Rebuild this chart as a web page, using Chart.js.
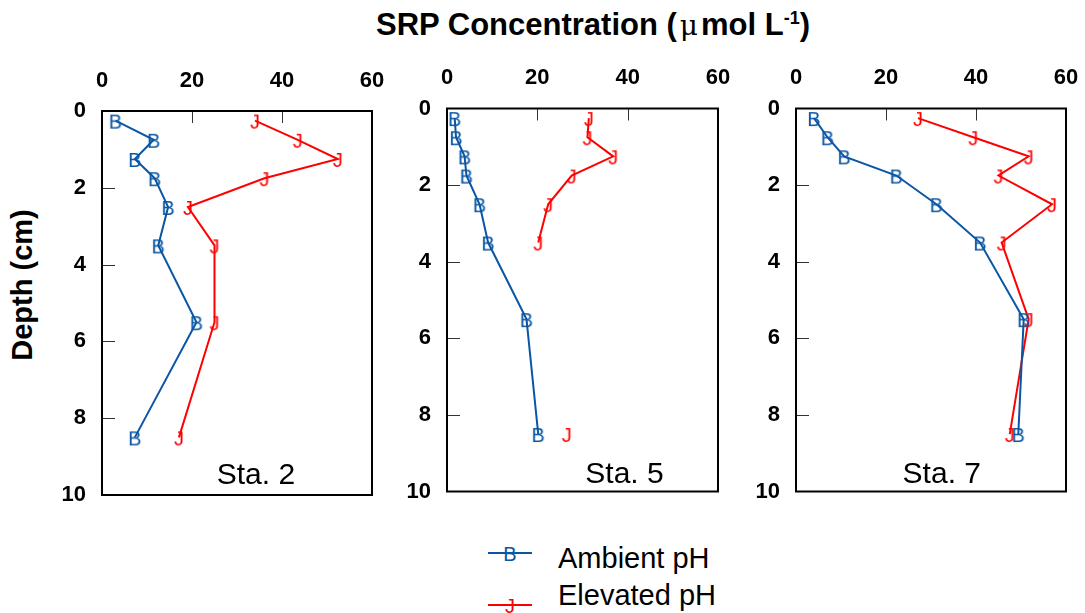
<!doctype html>
<html>
<head>
  <meta charset="utf-8">
  <title>SRP Concentration</title>
  <style>
    body { margin:0; width:1085px; height:613px; position:relative; overflow:hidden; background:#fff;
           font-family:"Liberation Sans", Arial, sans-serif; color:#000; }
    canvas { position:absolute; top:0; }
    #title { position:absolute; left:0; width:1186px; top:7px; text-align:center; font-weight:bold; font-size:31px; }
    #title sup { font-size:18px; }
    #title .mu { font-weight:normal; font-family:"DejaVu Serif", serif; font-size:28px; padding:0 3px; }
    #ytitle { position:absolute; left:22px; top:285px; font-weight:bold; font-size:29px; white-space:nowrap;
              transform:translate(-50%,-50%) rotate(-90deg); }
    .leg { position:absolute; left:488px; white-space:nowrap; }
    .leg .sw { position:absolute; left:0; top:-1px; width:44px; height:0; border-top:2px solid; }
    .leg .mk { position:absolute; left:22px; top:1px; transform:translate(-50%,-50%); font-size:20px; }
    .tx { position:absolute; left:558px; font-size:29px; transform:translateY(-50%); white-space:nowrap; }
  </style>
  <script src="https://cdn.jsdelivr.net/npm/chart.js"></script>
</head>
<body>
  <div id="title">SRP Concentration (<span class="mu">&mu;</span>mol L<sup>-1</sup>)</div>
  <div id="ytitle">Depth (cm)</div>
  <canvas id="sta2" width="400" height="515" style="left:0px"></canvas>
  <canvas id="sta5" width="370" height="515" style="left:380px"></canvas>
  <canvas id="sta7" width="355" height="515" style="left:730px"></canvas>

  <script>
    // depth of each sample (cm)
    const depths = [0.25, 0.75, 1.25, 1.75, 2.5, 3.5, 5.5, 8.5];

    // SRP (umol/L)
    const sta2Ambient  = [3.0, 11.5, 7.3, 11.7, 14.7, 12.5, 21.0, 7.3];
    const sta2Elevated = [34.0, 43.5, 52.4, 36.1, 19.1, 25.0, 25.0, 17.1];
    const sta5Ambient  = [1.7, 2.0, 3.9, 4.3, 7.2, 9.1, 17.6, 20.2];
    const sta5Elevated = [31.4, 31.1, 36.8, 27.6, 22.4, 20.2, null, 26.5];
    const sta7Ambient  = [4.0, 7.0, 10.7, 22.3, 31.2, 40.9, 50.6, 49.4];
    const sta7Elevated = [27.1, 39.4, 51.7, 45.0, 56.9, 45.7, 51.7, 47.5];

    const xTicks = [0, 20, 40, 60];
    const yTicks = [0, 2, 4, 6, 8, 10];

    const seriesNames = ['Ambient pH', 'Elevated pH'];
    const seriesColors = ['#0b56a4', '#ff0000'];
    const seriesMarks = ['B', 'J'];

    const FONT = '"Liberation Sans", Arial, sans-serif';

    function letterMark(ch, color) {
      const c = document.createElement('canvas');
      c.width = 22; c.height = 26;
      const g = c.getContext('2d');
      g.font = '20px ' + FONT;
      g.fillStyle = color;
      g.textAlign = 'center';
      g.textBaseline = 'middle';
      g.fillText(ch, 11, 15);
      return c;
    }
    const marks = seriesMarks.map((m, i) => letterMark(m, seriesColors[i]));

    // frame, inward tick marks and station name
    const framePlugin = {
      id: 'frame',
      afterDatasetsDraw(chart) {
        const { ctx, chartArea: a, scales } = chart;
        const o = chart.options.plugins.frame;
        ctx.save();
        ctx.strokeStyle = '#333';
        ctx.lineWidth = 1;
        ctx.beginPath();
        xTicks.slice(1, -1).forEach(v => {
          const x = Math.round(scales.x.getPixelForValue(v)) + 0.5;
          ctx.moveTo(x, a.top); ctx.lineTo(x, a.top + 12);
        });
        yTicks.slice(1, -1).forEach(v => {
          const y = Math.round(scales.y.getPixelForValue(v)) + 0.5;
          ctx.moveTo(a.left, y); ctx.lineTo(a.left + 13, y);
        });
        ctx.stroke();
        ctx.strokeStyle = '#000';
        ctx.lineWidth = 2;
        ctx.strokeRect(a.left, a.top, a.right - a.left, a.bottom - a.top);
        ctx.fillStyle = '#000';
        ctx.font = '30px ' + FONT;
        ctx.textAlign = 'center';
        ctx.textBaseline = 'middle';
        ctx.fillText(o.label, scales.x.getPixelForValue(o.lx), scales.y.getPixelForValue(o.ly));
        ctx.restore();
      }
    };

    function makePanel(id, ambient, elevated, box) {
      const sets = [ambient, elevated].map((vals, i) => ({
        label: seriesNames[i],
        data: depths.map((d, k) => ({ x: vals[k], y: d })),
        borderColor: seriesColors[i],
        backgroundColor: seriesColors[i],
        borderWidth: 2,
        pointStyle: marks[i],
        pointRadius: 6,
        spanGaps: false,
        clip: false
      }));
      return new Chart(document.getElementById(id), {
        type: 'line',
        data: { datasets: sets },
        plugins: [framePlugin],
        options: {
          responsive: false,
          animation: false,
          layout: { padding: { left: 0, top: 0, right: box.right, bottom: box.bottom } },
          plugins: {
            legend: { display: false },
            tooltip: { enabled: false },
            frame: { label: box.label, lx: box.lx, ly: box.ly }
          },
          scales: {
            x: {
              type: 'linear', position: 'top', min: 0, max: 60,
              afterBuildTicks: s => { s.ticks = xTicks.map(v => ({ value: v })); },
              afterFit: s => { s.height = box.top; s.paddingLeft = 0; s.paddingRight = 0; },
              grid: { display: false, drawTicks: false },
              border: { display: false },
              ticks: { color: '#000', padding: 17, font: { family: FONT, size: 22, weight: 'bold' } }
            },
            y: {
              type: 'linear', reverse: true, min: 0, max: 10,
              afterBuildTicks: s => { s.ticks = yTicks.map(v => ({ value: v })); },
              afterFit: s => { s.width = box.left; s.paddingTop = 0; s.paddingBottom = 0; },
              grid: { display: false, drawTicks: false },
              border: { display: false },
              ticks: { color: '#000', padding: 16, font: { family: FONT, size: 22, weight: 'bold' } }
            }
          }
        }
      });
    }

    makePanel('sta2', sta2Ambient, sta2Elevated, { left: 102, top: 111, right: 28, bottom: 20, label: 'Sta. 2', lx: 34.2, ly: 9.5 });
    makePanel('sta5', sta5Ambient, sta5Elevated, { left: 67, top: 108.5, right: 32, bottom: 23.5, label: 'Sta. 5', lx: 39.3, ly: 9.57 });
    makePanel('sta7', sta7Ambient, sta7Elevated, { left: 66, top: 108.5, right: 19, bottom: 23.5, label: 'Sta. 7', lx: 32.4, ly: 9.57 });

    // legend
    const legendLineY = [553, 605];
    const legendTextY = [558, 595];
    seriesNames.forEach((n, i) => {
      const d = document.createElement('div');
      d.className = 'leg';
      d.style.top = legendLineY[i] + 'px';
      d.innerHTML = '<div class="sw"></div><div class="mk"></div>';
      d.querySelector('.sw').style.borderColor = seriesColors[i];
      const mk = d.querySelector('.mk');
      mk.textContent = seriesMarks[i];
      mk.style.color = seriesColors[i];
      document.body.appendChild(d);
      const t = document.createElement('div');
      t.className = 'tx';
      t.style.top = legendTextY[i] + 'px';
      t.textContent = n;
      document.body.appendChild(t);
    });
  </script>
</body>
</html>
